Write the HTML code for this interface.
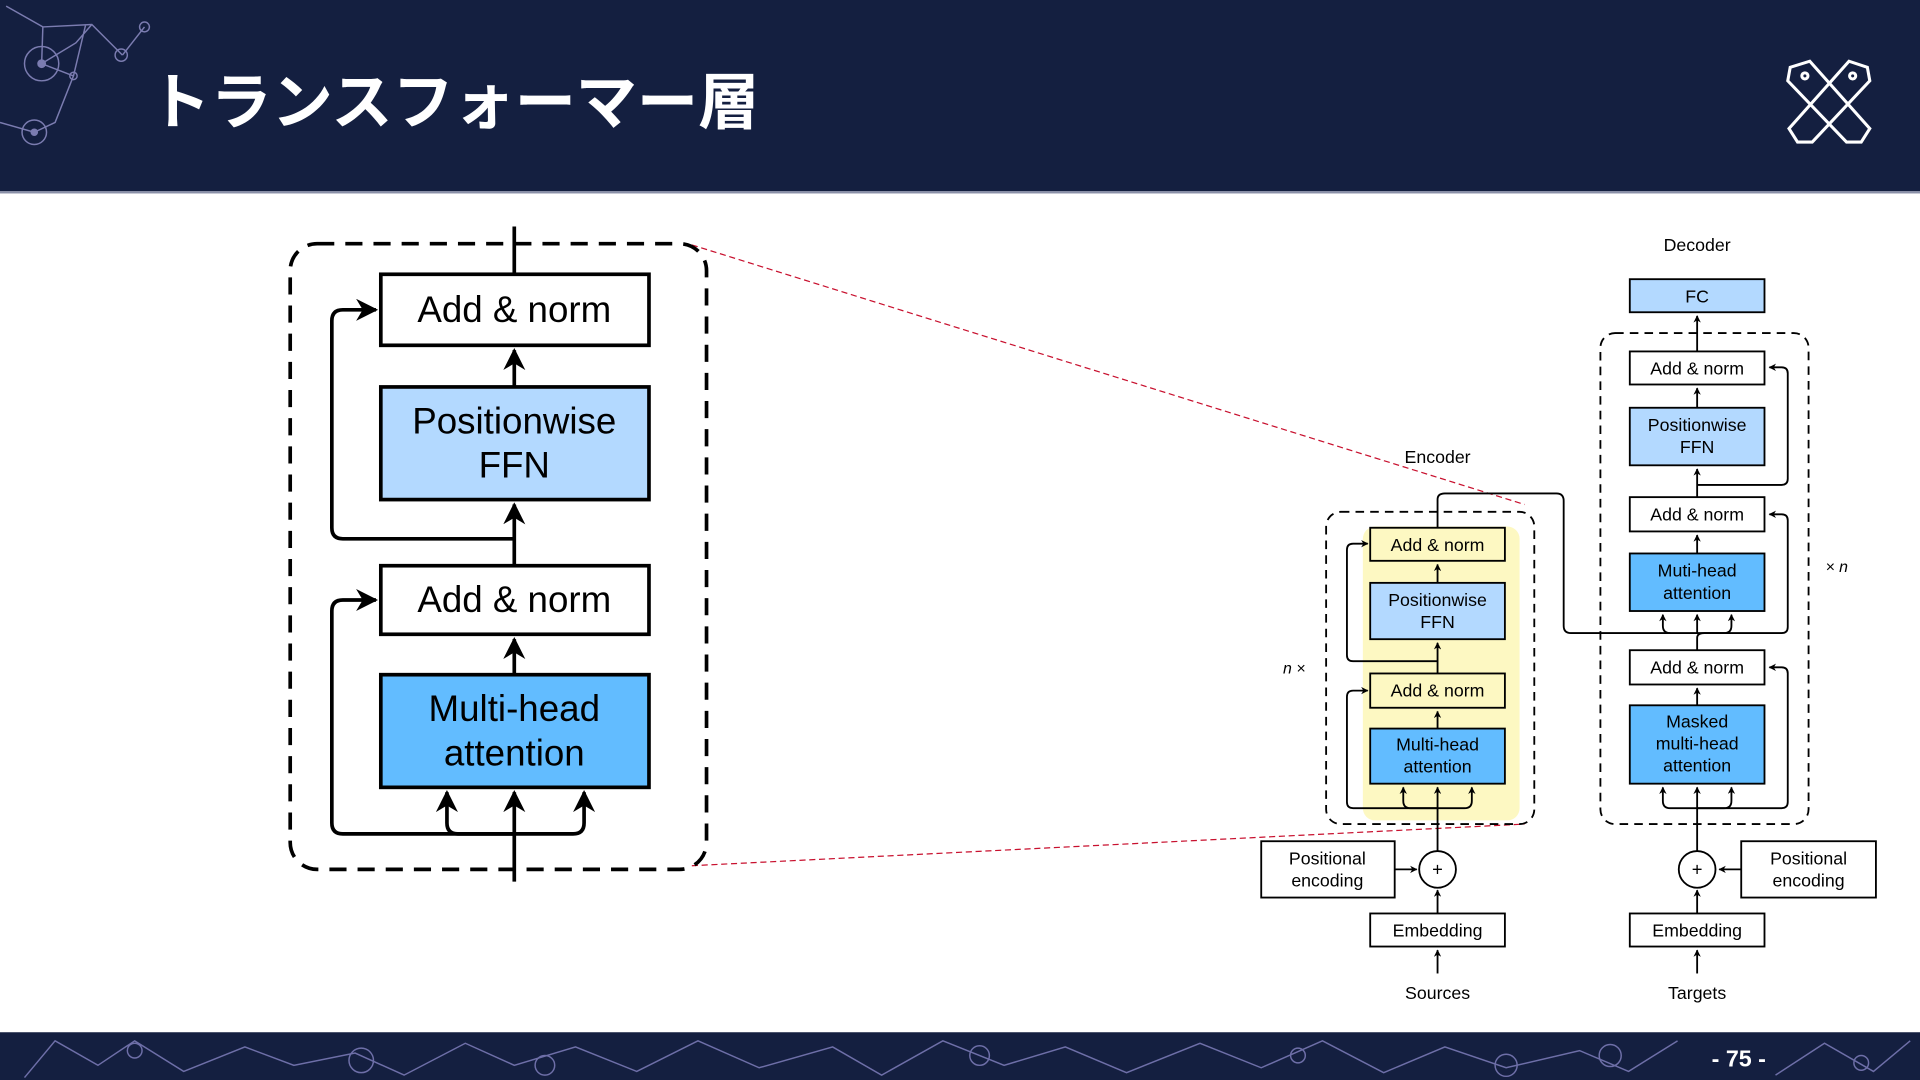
<!DOCTYPE html>
<html><head><meta charset="utf-8"><style>
html,body{margin:0;padding:0;width:1920px;height:1080px;overflow:hidden;background:#fff}
svg{display:block}
text{font-family:"Liberation Sans","Noto Sans CJK JP",sans-serif}
</style></head><body>
<svg width="1920" height="1080" viewBox="0 0 1568 882" preserveAspectRatio="none" xmlns="http://www.w3.org/2000/svg">
<defs>
<marker id="a" viewBox="0 0 10 10" refX="9" refY="5" markerWidth="4" markerHeight="4" orient="auto-start-reverse"><path d="M0,0 L10,5 L0,10 L3,5 z" fill="#000"/></marker>
<marker id="b" viewBox="0 0 10 10" refX="9" refY="5" markerWidth="6" markerHeight="6" orient="auto-start-reverse"><path d="M0,0 L10,5 L0,10 L3,5 z" fill="#000"/></marker>
</defs>
<rect x="0" y="0" width="1568" height="157" fill="#141f40"/>
<rect x="0" y="156" width="1568" height="2" fill="#8a90a8"/>
<g stroke="#7b7cb0" stroke-width="1.2" fill="none">
<path d="M5,5 L35,22 L75,20 L100,45 M35,22 L34,52 L60,62 L45,100 L28,108 M75,20 L62,35 L34,52 M100,45 L118,22 M0,100 L28,108 M60,62 L70,20"/>
<circle cx="34" cy="52" r="14"/><circle cx="34" cy="52" r="3" fill="#7b7cb0"/>
<circle cx="28" cy="108" r="10"/><circle cx="28" cy="108" r="2.5" fill="#7b7cb0"/>
<circle cx="99" cy="45" r="5"/><circle cx="118" cy="22" r="4"/><circle cx="60" cy="62" r="3"/>
</g>
<text x="122" y="101" font-size="50" font-weight="bold" fill="#fff" textLength="498">トランスフォーマー層</text>
<g fill="none" stroke="#fff" stroke-width="2.5">
<path d="M1462,55 L1478,50 L1527,105 L1520,116 L1508,116 L1460,66 Z"/>
<path d="M1525,55 L1510,50 L1461,105 L1468,116 L1480,116 L1527,66 Z"/>
<circle cx="1474" cy="62" r="2.5"/><circle cx="1513" cy="62" r="2.5"/>
</g>
<rect x="0" y="843" width="1568" height="39" fill="#141f40"/>
<g stroke="#6e6fa8" stroke-width="1.2" fill="none">
<path d="M20,880 L45,850 L80,870 L110,850 L150,875 L200,855 L240,870 L290,860 L330,878 L380,852 L420,870 L470,855 L520,875 L570,850 L620,872 L680,855 L720,878 L770,850 L820,870 L870,855 L920,876 L980,852 L1030,872 L1080,850 L1130,876 L1180,855 L1230,872 L1290,858 L1330,875 L1370,850 M1450,878 L1490,852 L1530,875 L1560,850"/>
<circle cx="110" cy="858" r="6"/><circle cx="295" cy="866" r="10"/><circle cx="445" cy="870" r="8"/><circle cx="800" cy="862" r="8"/><circle cx="1060" cy="862" r="6"/><circle cx="1230" cy="870" r="9"/><circle cx="1315" cy="862" r="9"/><circle cx="1520" cy="868" r="6"/>
</g>
<text x="1420" y="871" font-size="19" font-weight="bold" fill="#fff" text-anchor="middle">- 75 -</text>

<g stroke="#c8102e" stroke-width="1" stroke-dasharray="5,3" fill="none">
<line x1="565" y1="200" x2="1245" y2="412"/>
<line x1="565" y1="707" x2="1245" y2="673"/>
</g>

<rect x="237" y="199" width="340" height="511" rx="22" fill="none" stroke="#000" stroke-width="3" stroke-dasharray="14,9"/>
<g stroke="#000" stroke-width="3" fill="none">
<line x1="420" y1="185" x2="420" y2="224"/>
<line x1="420" y1="316" x2="420" y2="286" marker-end="url(#b)"/>
<line x1="420" y1="462" x2="420" y2="412" marker-end="url(#b)"/>
<line x1="420" y1="551" x2="420" y2="522" marker-end="url(#b)"/>
<line x1="420" y1="720" x2="420" y2="647" marker-end="url(#b)"/>
<path d="M420,440 L280,440 Q271,440 271,431 L271,262 Q271,253 280,253 L307,253" marker-end="url(#b)"/>
<path d="M420,681 L280,681 Q271,681 271,672 L271,499 Q271,490 280,490 L307,490" marker-end="url(#b)"/>
<path d="M420,681 L374,681 Q365,681 365,672 L365,647" marker-end="url(#b)"/>
<path d="M420,681 L468,681 Q477,681 477,672 L477,647" marker-end="url(#b)"/>
</g>
<g stroke="#000" stroke-width="3">
<rect x="311" y="224" width="219" height="58" fill="#fff"/>
<rect x="311" y="316" width="219" height="92" fill="#b3d9ff"/>
<rect x="311" y="462" width="219" height="56" fill="#fff"/>
<rect x="311" y="551" width="219" height="92" fill="#62bcff"/>
</g>
<g font-size="30" text-anchor="middle" fill="#000">
<text x="420" y="263">Add &amp; norm</text>
<text x="420" y="354">Positionwise</text><text x="420" y="390">FFN</text>
<text x="420" y="500">Add &amp; norm</text>
<text x="420" y="589">Multi-head</text><text x="420" y="625">attention</text>
</g>

<rect x="1113" y="430" width="128" height="240" rx="10" fill="#fdf8c2"/>
<rect x="1083" y="418" width="170" height="255" rx="12" fill="none" stroke="#000" stroke-width="1.5" stroke-dasharray="7,5"/>
<g stroke="#000" stroke-width="1.5" fill="none">
<path d="M1174,431 L1174,408 Q1174,403 1180,403 L1271,403 Q1277,403 1277,409 L1277,511 Q1277,517 1283,517 L1408,517 Q1414,517 1414,511 L1414,502" marker-end="url(#a)"/>
<path d="M1364,517 Q1358,517 1358,511 L1358,502" marker-end="url(#a)"/>
<line x1="1386" y1="517" x2="1386" y2="502" marker-end="url(#a)"/>
<line x1="1174" y1="476" x2="1174" y2="461" marker-end="url(#a)"/>
<line x1="1174" y1="550" x2="1174" y2="525" marker-end="url(#a)"/>
<line x1="1174" y1="595" x2="1174" y2="581" marker-end="url(#a)"/>
<line x1="1174" y1="695" x2="1174" y2="643" marker-end="url(#a)"/>
<line x1="1174" y1="746" x2="1174" y2="727" marker-end="url(#a)"/>
<line x1="1174" y1="795" x2="1174" y2="776" marker-end="url(#a)"/>
<line x1="1139" y1="710" x2="1157" y2="710" marker-end="url(#a)"/>
<path d="M1174,540 L1105,540 Q1100,540 1100,535 L1100,449 Q1100,444 1105,444 L1117,444" marker-end="url(#a)"/>
<path d="M1174,660 L1105,660 Q1100,660 1100,655 L1100,569 Q1100,564 1105,564 L1117,564" marker-end="url(#a)"/>
<path d="M1174,660 L1152,660 Q1146,660 1146,654 L1146,643" marker-end="url(#a)"/>
<path d="M1174,660 L1196,660 Q1202,660 1202,654 L1202,643" marker-end="url(#a)"/>
<circle cx="1174" cy="710" r="15" fill="#fff"/>
</g>
<g stroke="#000" stroke-width="1.5">
<rect x="1119" y="431" width="110" height="27" fill="#fdf8c2"/>
<rect x="1119" y="476" width="110" height="46" fill="#b3d9ff"/>
<rect x="1119" y="550" width="110" height="28" fill="#fdf8c2"/>
<rect x="1119" y="595" width="110" height="45" fill="#62bcff"/>
<rect x="1030" y="687" width="109" height="46" fill="#fff"/>
<rect x="1119" y="746" width="110" height="27" fill="#fff"/>
</g>
<rect x="1307" y="272" width="170" height="401" rx="12" fill="none" stroke="#000" stroke-width="1.5" stroke-dasharray="7,5"/>
<g stroke="#000" stroke-width="1.5" fill="none">
<line x1="1386" y1="287" x2="1386" y2="258" marker-end="url(#a)"/>
<line x1="1386" y1="333" x2="1386" y2="317" marker-end="url(#a)"/>
<line x1="1386" y1="406" x2="1386" y2="383" marker-end="url(#a)"/>
<line x1="1386" y1="452" x2="1386" y2="437" marker-end="url(#a)"/>
<line x1="1386" y1="576" x2="1386" y2="562" marker-end="url(#a)"/>
<line x1="1386" y1="695" x2="1386" y2="643" marker-end="url(#a)"/>
<line x1="1386" y1="746" x2="1386" y2="727" marker-end="url(#a)"/>
<line x1="1386" y1="795" x2="1386" y2="776" marker-end="url(#a)"/>
<line x1="1422" y1="710" x2="1404" y2="710" marker-end="url(#a)"/>
<path d="M1386,396 L1455,396 Q1460,396 1460,391 L1460,305 Q1460,300 1455,300 L1445,300" marker-end="url(#a)"/>
<path d="M1386,531 L1386,521 Q1386,517 1392,517 L1455,517 Q1460,517 1460,512 L1460,425 Q1460,420 1455,420 L1445,420" marker-end="url(#a)"/>
<path d="M1386,660 L1455,660 Q1460,660 1460,655 L1460,550 Q1460,545 1455,545 L1445,545" marker-end="url(#a)"/>
<path d="M1386,660 L1364,660 Q1358,660 1358,654 L1358,643" marker-end="url(#a)"/>
<path d="M1386,660 L1408,660 Q1414,660 1414,654 L1414,643" marker-end="url(#a)"/>
<circle cx="1386" cy="710" r="15" fill="#fff"/>
</g>
<g stroke="#000" stroke-width="1.5">
<rect x="1331" y="228" width="110" height="27" fill="#b3d9ff"/>
<rect x="1331" y="287" width="110" height="27" fill="#fff"/>
<rect x="1331" y="333" width="110" height="47" fill="#b3d9ff"/>
<rect x="1331" y="406" width="110" height="28" fill="#fff"/>
<rect x="1331" y="452" width="110" height="47" fill="#62bcff"/>
<rect x="1331" y="531" width="110" height="28" fill="#fff"/>
<rect x="1331" y="576" width="110" height="64" fill="#62bcff"/>
<rect x="1422" y="687" width="110" height="46" fill="#fff"/>
<rect x="1331" y="746" width="110" height="27" fill="#fff"/>
</g>
<g font-size="14.5" text-anchor="middle" fill="#000">
<text x="1174" y="378">Encoder</text>
<text x="1174" y="450">Add &amp; norm</text>
<text x="1174" y="495">Positionwise</text><text x="1174" y="513">FFN</text>
<text x="1174" y="569">Add &amp; norm</text>
<text x="1174" y="613">Multi-head</text><text x="1174" y="631">attention</text>
<text x="1084" y="706">Positional</text><text x="1084" y="724">encoding</text>
<text x="1174" y="765">Embedding</text>
<text x="1174" y="816">Sources</text>
<text x="1386" y="205">Decoder</text>
<text x="1386" y="247">FC</text>
<text x="1386" y="306">Add &amp; norm</text>
<text x="1386" y="352">Positionwise</text><text x="1386" y="370">FFN</text>
<text x="1386" y="425">Add &amp; norm</text>
<text x="1386" y="471">Muti-head</text><text x="1386" y="489">attention</text>
<text x="1386" y="550">Add &amp; norm</text>
<text x="1386" y="594">Masked</text><text x="1386" y="612">multi-head</text><text x="1386" y="630">attention</text>
<text x="1477" y="706">Positional</text><text x="1477" y="724">encoding</text>
<text x="1386" y="765">Embedding</text>
<text x="1386" y="816">Targets</text>
<text x="1174" y="715" font-size="15">+</text>
<text x="1386" y="715" font-size="15">+</text>
</g>
<text x="1057" y="550" font-size="13" font-style="italic" font-family="Liberation Serif,serif" text-anchor="middle">n ×</text>
<text x="1500" y="467" font-size="13" font-style="italic" font-family="Liberation Serif,serif" text-anchor="middle">× n</text>
</svg>
</body></html>
